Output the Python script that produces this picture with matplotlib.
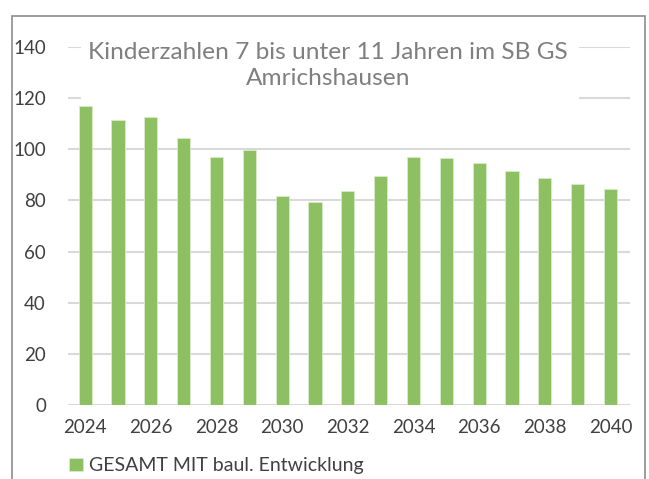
import matplotlib.pyplot as plt
from matplotlib.patches import Rectangle
import numpy as np

years = list(range(2024, 2041))
kinder = [117, 111.5, 112.5, 104.3, 97, 99.8, 81.8, 79.4, 83.8, 89.6, 97, 96.4, 94.5, 91.5, 88.7, 86.3, 84.3]
xticks = [2024, 2026, 2028, 2030, 2032, 2034, 2036, 2038, 2040]
yticks = [0, 20, 40, 60, 80, 100, 120, 140]
title = 'Kinderzahlen 7 bis unter 11 Jahren im SB GS\nAmrichshausen'
legend_label = 'GESAMT MIT baul. Entwicklung'

plt.rcParams['font.family'] = ['Lato', 'DejaVu Sans']

fig = plt.figure(figsize=(6.49, 4.79), dpi=100)
ax = fig.add_axes([0.105, 0.1545, 0.866, 0.7474])

ax.bar(years, kinder, width=0.4, color='#8cc063', edgecolor='#d7ebc8', lw=0.6,
       label=legend_label, zorder=2)

ax.set_xlim(2023.48, 2040.6)
ax.set_ylim(0, 140)
ax.set_xticks(xticks)
ax.set_yticks(yticks)
ax.tick_params(length=0, labelsize=13.5, colors='#404040', pad=10)
ax.tick_params(axis='y', pad=16)
ax.grid(axis='y', color='#d9d9d9', lw=1.5, zorder=0)
for s in ax.spines.values():
    s.set_visible(False)

# white area behind the title (hides the gridlines)
ax.add_patch(Rectangle((0.023, 0.85), 0.886, 0.2, transform=ax.transAxes,
                       facecolor='white', edgecolor='none', zorder=4, clip_on=False))
ax.text(0.463, 0.948, title, transform=ax.transAxes, ha='center', va='center',
        fontsize=17.6, color='#7f7f7f', linespacing=1.28, zorder=5)

fig.legend(loc='lower left', bbox_to_anchor=(0.08, -0.027), frameon=False,
           fontsize=14, handlelength=0.7, handleheight=0.7, handletextpad=0.3,
           labelcolor='#404040')

fig.patches.append(Rectangle((0.0185, -0.1), 0.975, 1.0666, transform=fig.transFigure,
                             fill=False, edgecolor='#8c8c8c', lw=1.2))

fig.savefig('out.png', dpi=100)
